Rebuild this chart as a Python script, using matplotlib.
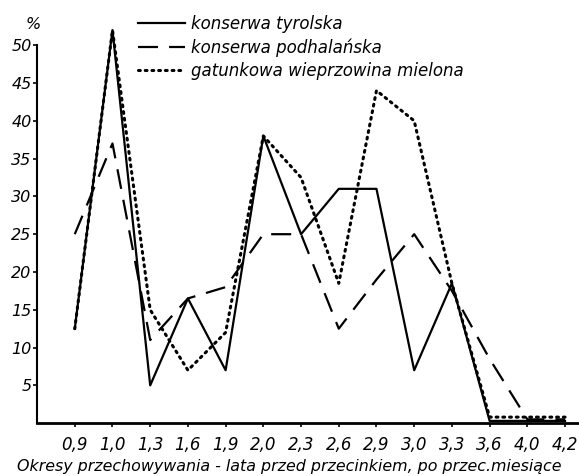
import numpy as np
import matplotlib
matplotlib.use("Agg")
import matplotlib.pyplot as plt

# okresy przechowywania (kategorie na osi x)
okresy = ["0,9", "1,0", "1,3", "1,6", "1,9", "2,0", "2,3", "2,6", "2,9", "3,0", "3,3", "3,6", "4,0", "4,2"]

# wartosci w %
tyrolska = [12.5, 52, 5, 16.5, 7, 38, 25, 31, 31, 7, 18.5, 0.3, 0.3, 0.3]
podhalanska = [25, 37, 11, 16.5, 18, 25, 25, 12.5, 19, 25, 17.5, 8.5, 0.5, 0.5]
mielona = [12.5, 52, 15, 7, 12, 38, 32.5, 18.5, 44, 40, 18.5, 0.8, 0.8, 0.8]

nazwy = ["konserwa tyrolska", "konserwa podhalańska", "gatunkowa wieprzowina mielona"]
y_ticks = [5, 10, 15, 20, 25, 30, 35, 40, 45, 50]

fig = plt.figure(figsize=(5.79, 4.76), dpi=100)
ax = fig.add_axes([0.064, 0.111, 0.936, 0.794])

x = np.arange(len(okresy))
l1, = ax.plot(x, tyrolska, color="black", lw=1.6, clip_on=False)
l2, = ax.plot(x, podhalanska, color="black", lw=1.6, dashes=(9, 5), clip_on=False)
l3, = ax.plot(x, mielona, color="black", lw=2.2, linestyle=(0, (0.6, 1.6)),
              dash_capstyle="round", clip_on=False)

ax.set_xlim(-1.0, 13.37)
ax.set_ylim(0, 50)
ax.set_xticks(x)
ax.set_xticklabels(okresy, fontstyle="italic", fontsize=12)
ax.set_yticks(y_ticks)
ax.set_yticklabels([str(v) for v in y_ticks], fontstyle="italic", fontsize=11.5)

for s in ["top", "right"]:
    ax.spines[s].set_visible(False)
ax.spines["left"].set_linewidth(1.5)
ax.spines["bottom"].set_linewidth(2)
ax.tick_params(axis="both", length=3, width=1.2, color="black")
ax.tick_params(axis="x", pad=6)
ax.tick_params(axis="y", pad=1)

fig.text(0.057, 0.948, "%", fontsize=11.5, fontstyle="italic", ha="center", va="center")
# podpis osi x wysrodkowany na calej figurze (jak w oryginale)
fig.text(0.5, 0.021, "Okresy przechowywania - lata przed przecinkiem, po przec.miesiące",
         fontstyle="italic", fontsize=11.4, ha="center", va="center")

fig.legend([l1, l2, l3], nazwy, loc="upper left", bbox_to_anchor=(138 / 579, 1 - 15 / 476),
           frameon=False, prop={"style": "italic", "size": 12},
           handlelength=2.8, handletextpad=0.4, labelspacing=0.32, borderpad=0,
           borderaxespad=0)

fig.savefig("out.png", dpi=100)
